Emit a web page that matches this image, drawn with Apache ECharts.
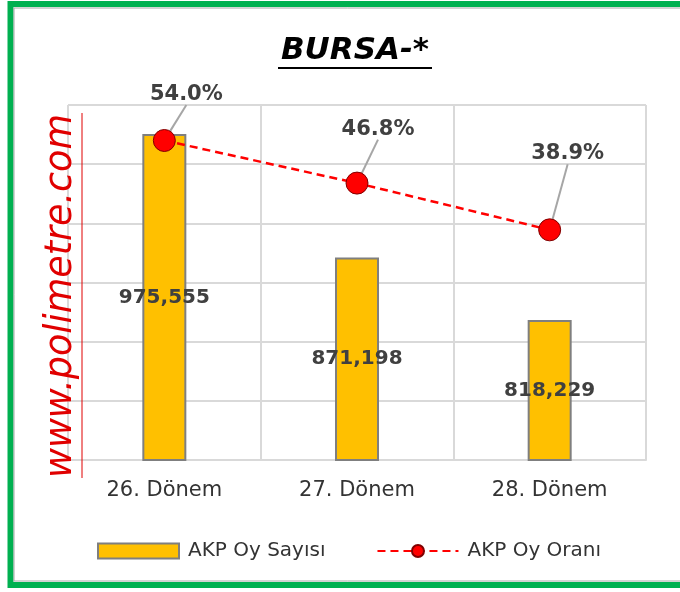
<!DOCTYPE html>
<html>
<head>
<meta charset="utf-8">
<script src="https://cdn.jsdelivr.net/npm/echarts@6/dist/echarts.min.js"></script>
<style>
  html, body { margin: 0; padding: 0; background: #fff; }
  #chart { width: 680px; height: 592px; }
</style>
</head>
<body>
<div id="chart"></div>
<script>
const categories = ['26. Dönem', '27. Dönem', '28. Dönem'];
const voteCounts = [975555, 871198, 818229];
const voteShares = [54.0, 46.8, 38.9];
const seriesNames = ['AKP Oy Sayısı', 'AKP Oy Oranı'];
const titleText = 'BURSA-*';
const watermarkText = 'www.polimetre.com';

const labelOffsets = [[22, -19], [21, -27], [18, -49]];

const chart = echarts.init(document.getElementById('chart'), null, { renderer: 'canvas' });

const option = {
  backgroundColor: '#ffffff',
  animation: false,
  graphic: [
    { type: 'rect', shape: { x: 10.5, y: 4, width: 720, height: 581 }, style: { fill: 'none', stroke: '#00B050', lineWidth: 6 }, z: 0 },
    { type: 'rect', shape: { x: 14, y: 8, width: 720, height: 573 }, style: { fill: 'none', stroke: '#A6A6A6', lineWidth: 1 }, z: 0 },
    { type: 'text', x: 355, y: 51, style: { text: titleText, font: 'italic bold 31px "DejaVu Sans"', fill: '#000', textAlign: 'center', textVerticalAlign: 'middle' }, z: 10 },
    { type: 'line', shape: { x1: 278, y1: 68, x2: 432, y2: 68 }, style: { stroke: '#000', lineWidth: 2 }, z: 10 },
    { type: 'text', x: 62, y: 296, rotation: Math.PI / 2, style: { text: watermarkText, font: 'italic 36.5px "DejaVu Sans"', fill: '#E00000', textAlign: 'center', textVerticalAlign: 'middle' }, z: 10 },
    { type: 'line', shape: { x1: 82, y1: 113, x2: 82, y2: 478 }, style: { stroke: '#E00000', lineWidth: 1 }, z: 10 }
  ],
  legend: {
    top: 536,
    left: 92,
    itemWidth: 81,
    itemHeight: 15,
    itemGap: 51,
    textStyle: { fontFamily: 'DejaVu Sans', fontSize: 20, color: '#333333', padding: [0, 0, 0, 4] },
    data: [
      { name: seriesNames[0], icon: 'rect' },
      { name: seriesNames[1] }
    ]
  },
  grid: { left: 68, right: 34, top: 105, bottom: 132 },
  xAxis: {
    type: 'category',
    data: categories,
    axisLine: { show: true, lineStyle: { color: '#D9D9D9', width: 2 } },
    axisTick: { show: false },
    splitLine: { show: true, lineStyle: { color: '#D9D9D9', width: 2 } },
    axisLabel: { margin: 20, fontFamily: 'DejaVu Sans', fontSize: 21, color: '#333333' }
  },
  yAxis: [
    {
      type: 'value', min: 700000, max: 1000000, interval: 50000,
      axisLabel: { show: false }, axisLine: { show: false }, axisTick: { show: false },
      splitLine: { show: true, lineStyle: { color: '#D9D9D9', width: 2 } }
    },
    {
      type: 'value', min: 0, max: 60, interval: 10,
      axisLabel: { show: false }, axisLine: { show: false }, axisTick: { show: false },
      splitLine: { show: false }
    }
  ],
  series: [
    {
      name: seriesNames[0],
      type: 'bar',
      data: voteCounts,
      barWidth: 44,
      itemStyle: { color: '#FFC000', borderColor: '#7F7F7F', borderWidth: 2 },
      label: {
        show: true, position: 'inside',
        fontFamily: 'DejaVu Sans', fontWeight: 'bold', fontSize: 20, color: '#404040',
        formatter: p => p.value.toLocaleString('en-US')
      },
      z: 2
    },
    {
      name: seriesNames[1],
      type: 'line',
      yAxisIndex: 1,
      data: voteShares,
      symbol: 'circle',
      symbolSize: 22,
      itemStyle: { color: '#FF0000', borderColor: '#800000', borderWidth: 1 },
      lineStyle: { color: '#FF0000', width: 2.5, type: [8, 5] },
      label: {
        show: true, position: 'top',
        fontFamily: 'DejaVu Sans', fontWeight: 'bold', fontSize: 21, color: '#404040',
        formatter: p => p.value.toFixed(1) + '%'
      },
      labelLine: { show: true, lineStyle: { color: '#A6A6A6', width: 2 } },
      labelLayout: p => ({ dx: labelOffsets[p.dataIndex][0], dy: labelOffsets[p.dataIndex][1] }),
      z: 5
    }
  ]
};

chart.setOption(option);
</script>
</body>
</html>
